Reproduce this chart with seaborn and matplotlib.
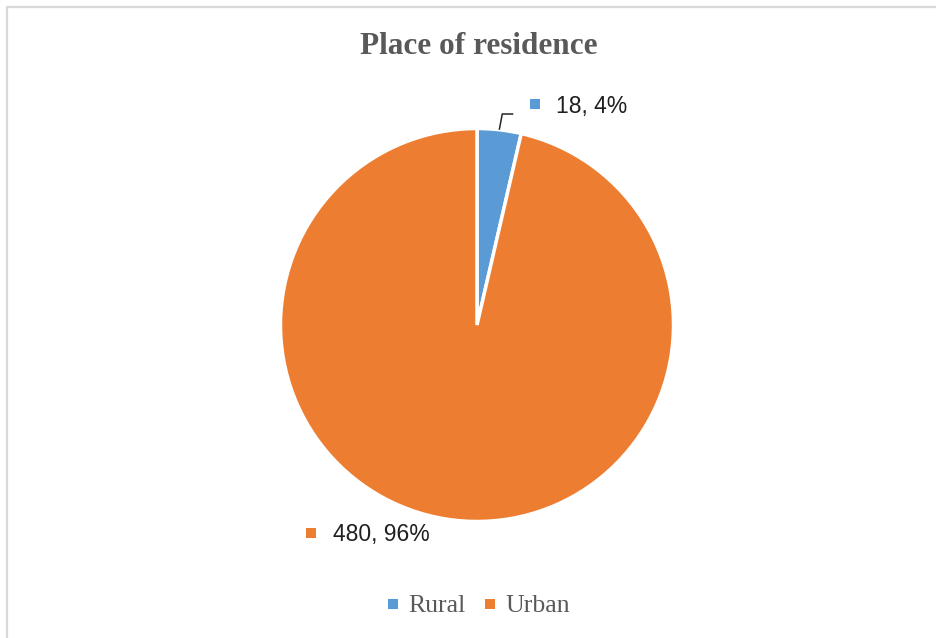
import numpy as np
import matplotlib
matplotlib.use("Agg")
import matplotlib.pyplot as plt
from matplotlib.lines import Line2D
import seaborn as sns

# Data
categories = ["Rural", "Urban"]
counts = [18, 480]
percent_labels = ["4%", "96%"]
colors = ["#5B9BD5", "#ED7D31"]

sns.set_theme(style="white")
palette = sns.color_palette(colors)

W, H, DPI = 936, 638, 100
fig = plt.figure(figsize=(W / DPI, H / DPI), dpi=DPI)
fig.patch.set_facecolor("white")

# Pixel-space axes covering the whole figure
ax = fig.add_axes([0, 0, 1, 1])

cx, cy, R = 477, H - 325, 196.5
wedges, _ = ax.pie(
    counts,
    colors=palette,
    startangle=90,
    counterclock=False,
    center=(cx, cy),
    radius=R,
    wedgeprops=dict(edgecolor="white", linewidth=2.5),
    frame=True,
)
ax.set_xlim(0, W)
ax.set_ylim(0, H)
ax.set_aspect("equal")
ax.axis("off")

total = sum(counts)
label_font = dict(family=["Liberation Sans", "DejaVu Sans"], size=16.5, color="#1f1f1f")

# Rural label with leader line from the wedge's mid angle
mid = np.deg2rad(90 - 360 * counts[0] / total / 2)
ax_pt = (cx + R * np.cos(mid), cy + R * np.sin(mid))
ax.plot([ax_pt[0], ax_pt[0] + 3, ax_pt[0] + 14], [ax_pt[1], H - 114, H - 114],
        color="#262626", lw=1.1, solid_capstyle="butt")
ax.plot([535], [H - 104], marker="s", ms=6.5, color=palette[0], mew=0)
ax.text(556, H - 106, f"{counts[0]}, {percent_labels[0]}", va="center", ha="left", **label_font)

# Urban label
ax.plot([311], [H - 533], marker="s", ms=6.5, color=palette[1], mew=0)
ax.text(333, H - 535, f"{counts[1]}, {percent_labels[1]}", va="center", ha="left", **label_font)

# Title
fig.text(479 / W, 1 - 47 / H, "Place of residence", ha="center", va="center",
         family=["Liberation Serif", "DejaVu Serif"], weight="bold", size=22.5, color="#595959")

# Legend
handles = [Line2D([], [], marker="s", ls="none", ms=6.5, mew=0, color=c) for c in palette]
leg = fig.legend(handles, categories, loc="center", bbox_to_anchor=(478 / W, 1 - 606 / H),
                 ncol=2, frameon=False, handlelength=0.6, handletextpad=0.3, columnspacing=0.65,
                 prop=dict(family=["Liberation Serif", "DejaVu Serif"], size=18.5))
for t in leg.get_texts():
    t.set_color("#595959")

# Chart-area border (top and left edges visible)
fig.add_artist(Line2D([7 / W, 1], [1 - 7 / H, 1 - 7 / H], transform=fig.transFigure,
                      color="#d9d9d9", lw=1.6))
fig.add_artist(Line2D([7 / W, 7 / W], [0, 1 - 7 / H], transform=fig.transFigure,
                      color="#d9d9d9", lw=1.6))

fig.savefig("out.png", dpi=DPI, facecolor="white")
